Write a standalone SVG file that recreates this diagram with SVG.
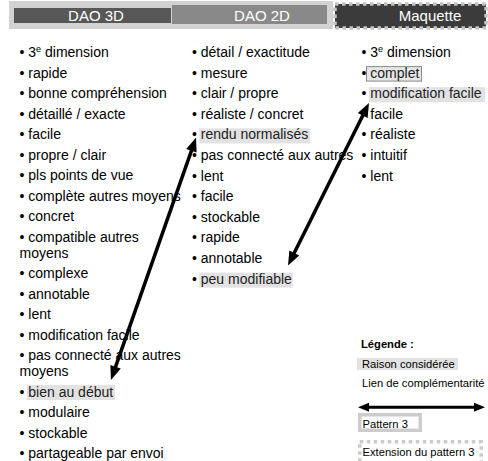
<svg xmlns="http://www.w3.org/2000/svg" width="488" height="461" viewBox="0 0 488 461">
<defs>
<style>
text{font-family:"Liberation Sans",Arial,Helvetica,sans-serif;fill:#000}
.it{font-size:14px}
.hd{font-size:15px;fill:#fff;text-anchor:middle}
.lg{font-size:11.2px}
.hl{fill:#e2e2e2}
.sup{font-size:9px}
.conn{stroke:#000;stroke-width:3.5;fill:none}
</style>
<marker id="ah" markerUnits="userSpaceOnUse" markerWidth="14" markerHeight="12" refX="6" refY="5.5" orient="auto-start-reverse" overflow="visible">
<path d="M0,0 L14,5.5 L0,11 z" fill="#000"/>
</marker>
<marker id="ahs" markerUnits="userSpaceOnUse" markerWidth="11" markerHeight="10" refX="5" refY="4.5" orient="auto-start-reverse" overflow="visible">
<path d="M0,0 L11,4.5 L0,9 z" fill="#000"/>
</marker>
</defs>
<rect width="488" height="461" fill="#fff"/>

<g id="header">
<rect x="9" y="1" width="324" height="28" fill="#d2d2d2"/>
<rect x="14" y="8" width="157" height="15" fill="#575757"/>
<rect x="172" y="5" width="155" height="19" fill="#898989"/>
<text class="hd" x="96" y="21">DAO 3D</text>
<text class="hd" x="262" y="21">DAO 2D</text>
<rect x="335" y="4" width="151" height="24" fill="#3b3b3b"/>
<rect x="335" y="4" width="151" height="24" fill="none" stroke="#c4c4c4" stroke-width="3.5" stroke-dasharray="3.5 3.5"/>
<text class="hd" x="430" y="21">Maquette</text>
</g>

<g id="col-dao3d" class="it">
<rect class="hl" x="26.7" y="385" width="88.4" height="15"/>
<text class="it" x="19.5" y="57">• 3<tspan class="sup" dy="-5">e</tspan><tspan dy="5"> dimension</tspan></text>
<text class="it" x="19.5" y="77.5">• rapide</text>
<text class="it" x="19.5" y="98">• bonne compréhension</text>
<text class="it" x="19.5" y="118.5">• détaillé / exacte</text>
<text class="it" x="19.5" y="139">• facile</text>
<text class="it" x="19.5" y="159.5">• propre / clair</text>
<text class="it" x="19.5" y="180">• pls points de vue</text>
<text class="it" x="19.5" y="200.5">• complète autres moyens</text>
<text class="it" x="19.5" y="221">• concret</text>
<text class="it" x="19.5" y="241.5">• compatible autres</text>
<text class="it" x="19.5" y="257.5">moyens</text>
<text class="it" x="19.5" y="278">• complexe</text>
<text class="it" x="19.5" y="298.5">• annotable</text>
<text class="it" x="19.5" y="319">• lent</text>
<text class="it" x="19.5" y="339.5">• modification facile</text>
<text class="it" x="19.5" y="360">• pas connecté aux autres</text>
<text class="it" x="19.5" y="376">moyens</text>
<text class="it" x="19.5" y="396.5">• <tspan fill="#222">bien au début</tspan></text>
<text class="it" x="19.5" y="417">• modulaire</text>
<text class="it" x="19.5" y="437.5">• stockable</text>
<text class="it" x="19.5" y="458">• partageable par envoi</text>
</g>

<g id="col-dao2d">
<rect class="hl" x="199.3" y="128.4" width="110.7" height="15"/>
<rect class="hl" x="199.3" y="272.6" width="93.4" height="15"/>
<text class="it" x="192" y="57">• détail / exactitude</text>
<text class="it" x="192" y="77.6">• mesure</text>
<text class="it" x="192" y="98.2">• clair / propre</text>
<text class="it" x="192" y="118.8">• réaliste / concret</text>
<text class="it" x="192" y="139.4">• <tspan fill="#222">rendu normalisés</tspan></text>
<text class="it" x="192" y="160">• pas connecté aux autres</text>
<text class="it" x="192" y="180.6">• lent</text>
<text class="it" x="192" y="201.2">• facile</text>
<text class="it" x="192" y="221.8">• stockable</text>
<text class="it" x="192" y="242.4">• rapide</text>
<text class="it" x="192" y="263">• annotable</text>
<text class="it" x="192" y="283.6">• <tspan fill="#222">peu modifiable</tspan></text>
</g>

<g id="col-maquette">
<rect x="366.5" y="66.6" width="55" height="14.5" fill="#e6e6e6" stroke="#8a8a8a" stroke-width="1"/>
<rect class="hl" x="369" y="87.2" width="116" height="15"/>
<text class="it" x="361.5" y="57">• 3<tspan class="sup" dy="-5">e</tspan><tspan dy="5"> dimension</tspan></text>
<text class="it" x="361.5" y="77.6">• <tspan fill="#222">complet</tspan></text>
<text class="it" x="361.5" y="98.2">• <tspan fill="#222">modification facile</tspan></text>
<text class="it" x="361.5" y="118.8">• facile</text>
<text class="it" x="361.5" y="139.4">• réaliste</text>
<text class="it" x="361.5" y="160">• intuitif</text>
<text class="it" x="361.5" y="180.6">• lent</text>
</g>

<g id="connectors">
<line class="conn" x1="113.6" y1="372.4" x2="193.4" y2="145.1" marker-start="url(#ah)" marker-end="url(#ah)"/>
<line class="conn" x1="291.6" y1="258.3" x2="365.4" y2="110.2" marker-start="url(#ah)" marker-end="url(#ah)"/>
</g>

<g id="legend">
<text class="lg" x="361" y="348" font-weight="bold">Légende :</text>
<rect class="hl" x="357" y="358" width="101" height="12"/>
<text class="lg" x="362" y="368" fill="#222">Raison considérée</text>
<text class="lg" x="362" y="387">Lien de complémentarité</text>
<line x1="364" y1="407.3" x2="479" y2="407.3" stroke="#000" stroke-width="3" marker-start="url(#ahs)" marker-end="url(#ahs)"/>
<rect x="359.75" y="414.75" width="60.5" height="15.5" fill="#fff" stroke="#cccccc" stroke-width="3.5"/>
<text class="lg" x="362.5" y="427.5">Pattern 3</text>
<rect x="359.75" y="441.75" width="121.5" height="21.5" fill="#fff" stroke="#cccccc" stroke-width="3.5" stroke-dasharray="3.5 3.5"/>
<text class="lg" x="362.5" y="455.5">Extension du pattern 3</text>
</g>
</svg>
